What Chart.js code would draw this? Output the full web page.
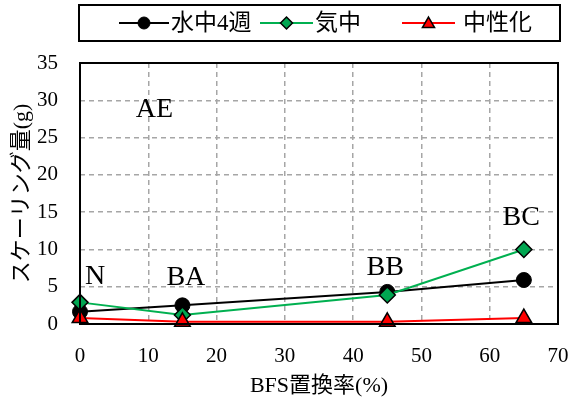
<!DOCTYPE html>
<html>
<head>
<meta charset="utf-8">
<script src="https://cdn.jsdelivr.net/npm/chart.js@4.4.1/dist/chart.umd.min.js"></script>
<style>
  html, body { margin: 0; padding: 0; background: #fff; }
</style>
</head>
<body>
<canvas id="scalingChart" width="573" height="399"></canvas>
<script>
// BFS replacement ratio (%) for each mix
const bfsRatio = [0, 15, 45, 65];

// scaling amount (g)
const waterCured4w = [1.65, 2.5, 4.3, 5.9];
const airCured = [2.9, 1.2, 3.9, 10.0];
const carbonated = [0.8, 0.3, 0.3, 0.8];

const seriesNames = ['水中4週', '気中', '中性化'];

// mix labels written on the plot (value coordinates)
const mixNames = ['AE', 'N', 'BA', 'BB', 'BC'];
const mixX = [10.9, 2.2, 15.5, 44.7, 64.6];
const mixY = [28.8, 6.4, 6.2, 7.6, 14.3];

const xTicks = [0, 10, 20, 30, 40, 50, 60, 70];
const yTicks = [0, 5, 10, 15, 20, 25, 30, 35];

const FONT = '"Liberation Serif", "Noto Sans CJK JP", serif';

function toPoints(values) {
  return bfsRatio.map((x, i) => ({ x: x, y: values[i] }));
}

// legend box + frame + mix labels
const decorPlugin = {
  id: 'decor',
  afterDatasetsDraw(chart) {
    const ctx = chart.ctx;
    const area = chart.chartArea;
    const xs = chart.scales.x;
    const ys = chart.scales.y;
    ctx.save();

    // plot frame
    ctx.strokeStyle = '#000';
    ctx.lineWidth = 2;
    ctx.strokeRect(area.left, area.top, area.right - area.left, area.bottom - area.top);

    // mix labels
    ctx.fillStyle = '#000';
    ctx.font = '28px ' + FONT;
    ctx.textAlign = 'center';
    ctx.textBaseline = 'middle';
    mixNames.forEach((name, i) => {
      ctx.fillText(name, xs.getPixelForValue(mixX[i]), ys.getPixelForValue(mixY[i]));
    });

    // legend
    ctx.lineWidth = 2;
    ctx.strokeStyle = '#000';
    ctx.strokeRect(79, 5, 481, 36);
    const items = [
      { from: 119, to: 169, text: 171 },
      { from: 260, to: 313, text: 315 },
      { from: 402, to: 455, text: 463 }
    ];
    const ly = 23;
    items.forEach((it, i) => {
      const ds = chart.data.datasets[i];
      ctx.strokeStyle = ds.borderColor;
      ctx.lineWidth = 2;
      ctx.beginPath();
      ctx.moveTo(it.from, ly);
      ctx.lineTo(it.to, ly);
      ctx.stroke();
      const cx = (it.from + it.to) / 2;
      ctx.fillStyle = ds.pointBackgroundColor;
      ctx.strokeStyle = ds.pointBorderColor;
      ctx.lineWidth = ds.pointBorderWidth;
      Chart.helpers.drawPoint(ctx, {
        pointStyle: ds.pointStyle,
        radius: ds.pointStyle === 'triangle' ? 7 : 6,
        rotation: 0,
        borderWidth: ds.pointBorderWidth
      }, cx, ly + (ds.pointStyle === 'triangle' ? 1 : 0));
      ctx.fillStyle = '#000';
      ctx.font = '23px ' + FONT;
      ctx.textAlign = 'left';
      ctx.textBaseline = 'middle';
      ctx.fillText(seriesNames[i], it.text, ly + 1);
    });
    ctx.restore();
  }
};

new Chart(document.getElementById('scalingChart'), {
  type: 'line',
  data: {
    datasets: [
      {
        label: seriesNames[0],
        data: toPoints(waterCured4w),
        borderColor: '#000000',
        borderWidth: 2,
        pointStyle: 'circle',
        pointRadius: 7.5,
        pointBackgroundColor: '#000000',
        pointBorderColor: '#000000',
        pointBorderWidth: 1,
        clip: false,
        order: 3
      },
      {
        label: seriesNames[1],
        data: toPoints(airCured),
        borderColor: '#00B050',
        borderWidth: 2,
        pointStyle: 'rectRot',
        pointRadius: 8,
        pointBackgroundColor: '#00A651',
        pointBorderColor: '#000000',
        pointBorderWidth: 1.5,
        clip: false,
        order: 2
      },
      {
        label: seriesNames[2],
        data: toPoints(carbonated),
        borderColor: '#FF0000',
        borderWidth: 2,
        pointStyle: 'triangle',
        pointRadius: 9,
        pointBackgroundColor: '#FF0000',
        pointBorderColor: '#000000',
        pointBorderWidth: 1.5,
        clip: false,
        order: 1
      }
    ]
  },
  options: {
    responsive: false,
    animation: false,
    layout: { padding: { top: 63, right: 15, left: 0, bottom: 0 } },
    plugins: {
      legend: { display: false },
      tooltip: { enabled: false }
    },
    scales: {
      x: {
        type: 'linear',
        min: 0,
        max: 70,
        afterFit: (scale) => {
          scale.height = 75;
          scale.paddingLeft = 0;
          scale.paddingRight = 0;
        },
        afterBuildTicks: (scale) => { scale.ticks = xTicks.map(v => ({ value: v })); },
        grid: { color: '#A6A6A6', lineWidth: 1.5, drawTicks: false },
        border: { display: false, dash: [5, 4] },
        ticks: { padding: 20, color: '#000', font: { family: FONT, size: 21 } },
        title: {
          display: true,
          text: 'BFS置換率(%)',
          color: '#000',
          font: { family: FONT, size: 22 },
          padding: { top: 0, bottom: 0 }
        }
      },
      y: {
        min: 0,
        max: 35,
        afterFit: (scale) => {
          scale.width = 80;
          scale.paddingTop = 0;
          scale.paddingBottom = 0;
        },
        afterBuildTicks: (scale) => { scale.ticks = yTicks.map(v => ({ value: v })); },
        grid: { color: '#A6A6A6', lineWidth: 1.5, drawTicks: false },
        border: { display: false, dash: [5, 4] },
        ticks: { padding: 22, color: '#000', font: { family: FONT, size: 21 } },
        title: {
          display: true,
          text: 'スケーリング量(g)',
          color: '#000',
          font: { family: FONT, size: 22 },
          padding: { top: 9, bottom: 0 }
        }
      }
    }
  },
  plugins: [decorPlugin]
});
</script>
</body>
</html>
